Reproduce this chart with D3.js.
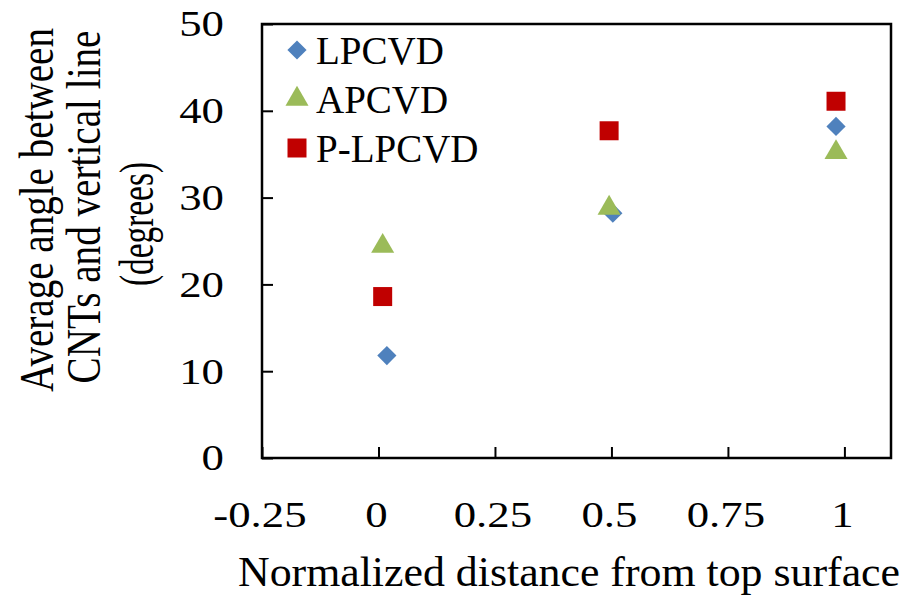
<!DOCTYPE html>
<html>
<head>
<meta charset="utf-8">
<script src="https://cdn.jsdelivr.net/npm/d3@7"></script>
<style>
  body { margin: 0; background: #fff; }
</style>
</head>
<body>
<div id="chart"></div>
<script>
// data
const seriesNames = ["LPCVD", "APCVD", "P-LPCVD"];
const lpcvdX = [0.018, 0.503, 0.982];
const lpcvdY = [11.8, 28.2, 38.2];
const apcvdX = [0.009, 0.495, 0.982];
const apcvdY = [24.4, 28.8, 35.2];
const plpcvdX = [0.009, 0.495, 0.982];
const plpcvdY = [18.6, 37.7, 41.1];
const xTicks = [-0.25, 0, 0.25, 0.5, 0.75, 1];
const yTicks = [0, 10, 20, 30, 40, 50];
const xTitle = "Normalized distance from top surface";
const yTitle = ["Average angle between", "CNTs and vertical line", "(degrees)"];

var FONT = "Liberation Serif";
var STRETCH = 1.28; // tick labels / y title are drawn wider than the font

var width = 909, height = 597;
var margin = {top: 24, right: 18, bottom: 139, left: 262};

var svg = d3.select("#chart").append("svg")
  .attr("width", width)
  .attr("height", height)
  .attr("font-family", FONT);

var x = d3.scaleLinear().domain([-0.25, 1.1]).range([margin.left, width - margin.right]);
var y = d3.scaleLinear().domain([0, 50]).range([height - margin.bottom, margin.top]);

// frame
svg.append("rect")
  .attr("x", x(-0.25)).attr("y", y(50))
  .attr("width", x(1.1) - x(-0.25)).attr("height", y(0) - y(50))
  .attr("fill", "none").attr("stroke", "#000").attr("stroke-width", 2.5);

// x axis (ticks inside)
var xAxis = svg.append("g")
  .attr("transform", "translate(0," + y(0) + ")")
  .call(d3.axisBottom(x).tickValues(xTicks).tickSizeInner(-11).tickSizeOuter(0)
    .tickFormat(d => String(d)));
xAxis.attr("font-family", FONT).attr("font-size", 35);
xAxis.select(".domain").remove();
xAxis.selectAll(".tick line").attr("stroke-width", 2);
xAxis.selectAll(".tick text")
  .attr("y", 69).attr("dy", 0).attr("x", -2)
  .attr("font-family", FONT)
  .attr("transform", "scale(" + STRETCH + ",1)");

// y axis (ticks inside)
var yAxis = svg.append("g")
  .attr("transform", "translate(" + x(-0.25) + ",0)")
  .call(d3.axisLeft(y).tickValues(yTicks).tickSizeInner(-11).tickSizeOuter(0));
yAxis.attr("font-family", FONT).attr("font-size", 35);
yAxis.select(".domain").remove();
yAxis.selectAll(".tick line").attr("stroke-width", 2);
yAxis.selectAll(".tick text")
  .attr("x", -38 / STRETCH).attr("dy", "0.34em")
  .attr("font-family", FONT)
  .attr("transform", "scale(" + STRETCH + ",1)");

// axis titles
svg.append("text")
  .attr("x", 238).attr("y", 586)
  .attr("font-size", 42)
  .attr("textLength", 662).attr("lengthAdjust", "spacingAndGlyphs")
  .text(xTitle);

var yLineX = [53, 100, 153];
var yLineY = [210, 207, 224];
var yLineLen = [364, 353, 124];
var yLineSize = [39, 39, 39];
var yLinePerp = [1.25, 1.25, 1.25];
svg.append("g").selectAll("text")
  .data(yTitle)
  .enter().append("text")
  .attr("text-anchor", "middle")
  .attr("font-size", (d, i) => yLineSize[i])
  .text(d => d)
  .each(function(d, i) {
    var k = yLineLen[i] / this.getComputedTextLength();
    d3.select(this).attr("transform",
      "translate(" + yLineX[i] + "," + yLineY[i] + ") rotate(-90) scale(" + k + "," + yLinePerp[i] + ")");
  });

// markers
var sym = [d3.symbolDiamond2, d3.symbolTriangle, d3.symbolSquare];
var symSize = [235, 230, 361];
var colors = ["#4F81BD", "#9BBB59", "#C00000"];
var series = [
  {xs: lpcvdX, ys: lpcvdY},
  {xs: apcvdX, ys: apcvdY},
  {xs: plpcvdX, ys: plpcvdY}
];

series.forEach(function(s, k) {
  svg.append("g").selectAll("path")
    .data(s.xs.map((v, i) => [v, s.ys[i]]))
    .enter().append("path")
    .attr("transform", d => "translate(" + x(d[0]) + "," + y(d[1]) + ")")
    .attr("d", d3.symbol().type(sym[k]).size(symSize[k]))
    .attr("fill", colors[k]);
});

// legend
var legend = svg.append("g");
seriesNames.forEach(function(name, k) {
  var ly = 50 + k * 49;
  legend.append("path")
    .attr("transform", "translate(297," + ly + ")")
    .attr("d", d3.symbol().type(sym[k]).size(symSize[k]))
    .attr("fill", colors[k]);
  legend.append("text")
    .attr("x", 316).attr("y", ly)
    .attr("dy", "0.35em")
    .attr("font-size", 39)
    .text(name);
});
</script>
</body>
</html>
